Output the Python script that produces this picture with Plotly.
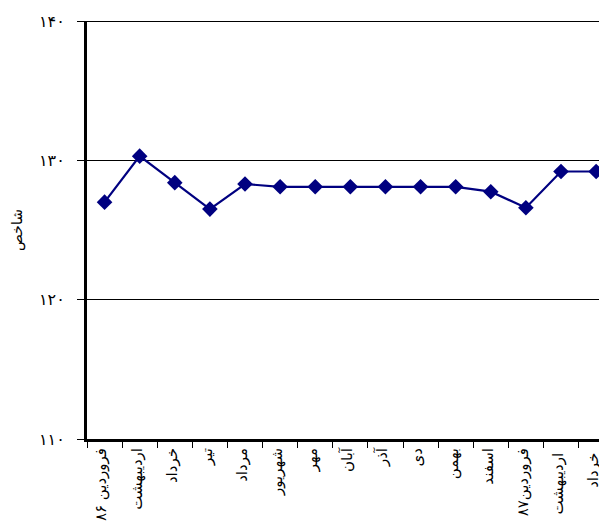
import plotly.graph_objects as go

months = ["فروردین ۸۶", "اردیبهشت", "خرداد", "تیر", "مرداد", "شهریور", "مهر",
          "آبان", "آذر", "دی", "بهمن", "اسفند", "فروردین۸۷", "اردیبهشت ", "خرداد "]
index_values = [127.0, 130.3, 128.4, 126.5, 128.3, 128.1, 128.1,
                128.1, 128.1, 128.1, 128.1, 127.75, 126.6, 129.2, 129.2]
y_tickvals = [110, 120, 130, 140]
y_ticktext = ["۱۱۰", "۱۲۰", "۱۳۰", "۱۴۰"]
y_title = "شاخص"

FONT = "DejaVu Sans"

fig = go.Figure()
fig.add_trace(go.Scatter(
    x=months, y=index_values, mode="lines+markers",
    line=dict(color="#000080", width=2.2),
    marker=dict(symbol="diamond", size=12, color="#000080"),
    cliponaxis=False, showlegend=False,
))

fig.add_shape(type="line", xref="paper", x0=0, x1=1, yref="y", y0=140, y1=140,
              line=dict(color="black", width=2))

fig.update_layout(
    width=599, height=520,
    margin=dict(l=79, r=0, t=13, b=89),
    paper_bgcolor="white", plot_bgcolor="white",
    font=dict(family=FONT, size=15, color="black"),
)
fig.update_xaxes(
    type="category", range=[-0.5, 14.31], tickson="boundaries",
    ticks="outside", ticklen=6, tickwidth=1, tickcolor="black",
    tickangle=-90, ticklabelshift=-3,
    showline=True, linecolor="black", linewidth=3,
    showgrid=False, tickfont=dict(family=FONT, size=15),
)
fig.update_yaxes(
    range=[110, 140], tickvals=y_tickvals, ticktext=y_ticktext,
    ticks="outside", ticklen=7, tickwidth=1, tickcolor="black",
    ticklabelstandoff=9,
    showline=True, linecolor="black", linewidth=3,
    showgrid=True, gridcolor="black", gridwidth=1, zeroline=False,
    title=dict(text=y_title, font=dict(family=FONT, size=14), standoff=14),
    tickfont=dict(family=FONT, size=16),
)

fig.write_html("out.html")
